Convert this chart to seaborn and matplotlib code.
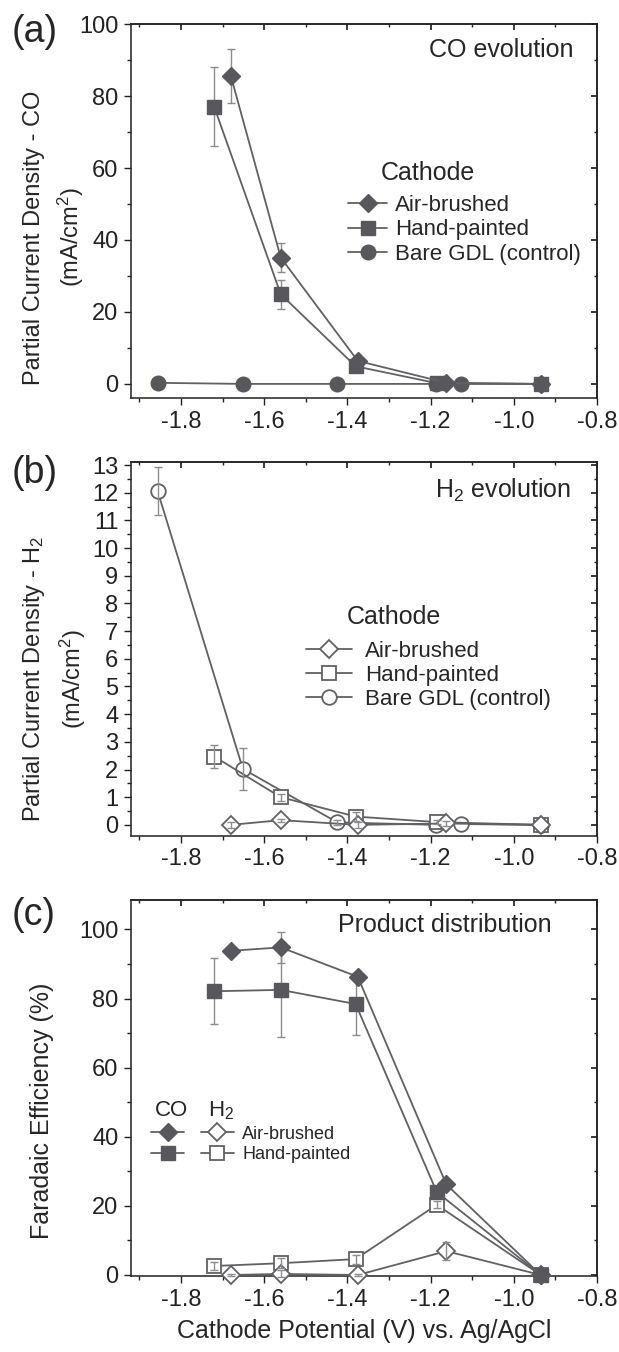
import numpy as np
import pandas as pd
import matplotlib
matplotlib.use("Agg")
import matplotlib.pyplot as plt
import seaborn as sns
from matplotlib.lines import Line2D
from matplotlib.legend_handler import HandlerTuple
from matplotlib.ticker import MultipleLocator, FixedLocator

# ---------------- data ----------------
# (a) CO partial current density (mA/cm2)
a_air_x = [-1.68, -1.56, -1.375, -1.162, -0.935]
a_air_y = [85.6, 35.1, 6.4, 0.3, 0.0]
a_air_e = [7.5, 4.0, 0.0, 0.0, 0.0]
a_hand_x = [-1.72, -1.56, -1.38, -1.185, -0.935]
a_hand_y = [77.0, 24.9, 4.9, 0.2, 0.0]
a_hand_e = [11.0, 4.0, 0.0, 0.0, 0.0]
a_bare_x = [-1.856, -1.651, -1.424, -1.186, -1.127, -0.935]
a_bare_y = [0.3, 0.0, 0.0, 0.0, 0.0, 0.0]

# (b) H2 partial current density (mA/cm2)
b_air_x = a_air_x
b_air_y = [0.0, 0.17, 0.0, 0.05, 0.0]
b_air_e = [0.12, 0.05, 0.1, 0.1, 0.0]
b_hand_x = a_hand_x
b_hand_y = [2.47, 1.0, 0.3, 0.1, 0.0]
b_hand_e = [0.42, 0.12, 0.15, 0.08, 0.0]
b_bare_x = a_bare_x
b_bare_y = [12.06, 2.02, 0.09, 0.0, 0.03, 0.0]
b_bare_e = [0.88, 0.77, 0.08, 0.0, 0.0, 0.0]

# (c) Faradaic efficiency (%)
c_co_air_y = [93.8, 94.8, 86.3, 26.2, 0.0]
c_co_air_e = [0.0, 4.5, 0.0, 0.0, 0.0]
c_co_hand_y = [82.1, 82.5, 78.4, 24.0, 0.0]
c_co_hand_e = [9.5, 13.5, 9.0, 0.0, 0.0]
c_h2_air_y = [0.0, 0.3, 0.0, 6.9, 0.0]
c_h2_air_e = [0.3, 1.0, 0.3, 2.6, 0.0]
c_h2_hand_y = [2.6, 3.4, 4.6, 20.3, 0.0]
c_h2_hand_e = [1.2, 1.5, 1.3, 1.0, 0.0]

legend_labels = ["Air-brushed", "Hand-painted", "Bare GDL (control)"]
xticks = [-1.8, -1.6, -1.4, -1.2, -1.0, -0.8]

# ---------------- style ----------------
sns.set_theme(style="ticks")
plt.rcParams["font.family"] = ["Liberation Sans", "DejaVu Sans"]
plt.rcParams["mathtext.fontset"] = "custom"
plt.rcParams["mathtext.rm"] = "Liberation Sans"
plt.rcParams["mathtext.it"] = "Liberation Sans"
plt.rcParams["axes.linewidth"] = 1.1

LINE = "#616165"
FILL = "#58585c"
ERR = "#8c8c8c"
TICK_FS = 17

fig = plt.figure(figsize=(6.19, 13.52), dpi=100)
L, W = 0.2116, 0.7528
ax_a = fig.add_axes([L, 0.7054, W, 0.2768])
ax_b = fig.add_axes([L, 0.3817, W, 0.2768])
ax_c = fig.add_axes([L, 0.0562, W, 0.2781])


def series(ax, x, y, marker, ms, filled, err=None):
    df = pd.DataFrame({"x": x, "y": y})
    if err is not None:
        e = np.asarray(err, dtype=float)
        m = e > 0
        if m.any():
            ax.errorbar(np.asarray(x)[m], np.asarray(y)[m], yerr=e[m], fmt="none",
                        ecolor=ERR, elinewidth=1.0, capsize=3, capthick=1.0,
                        zorder=5 if not filled else 1.5, clip_on=False)
    sns.lineplot(data=df, x="x", y="y", ax=ax, color=LINE, linewidth=1.3,
                 marker=marker, markersize=ms,
                 markerfacecolor=FILL if filled else "white",
                 markeredgecolor=FILL if filled else LINE,
                 markeredgewidth=1.0 if filled else 1.3,
                 clip_on=False, zorder=3, sort=True, estimator=None)


def style_axes(ax, ymin, ymax, ymaj, ymin_step):
    ax.set_xlim(-1.92, -0.8)
    ax.set_ylim(ymin, ymax)
    ax.xaxis.set_major_locator(FixedLocator(xticks))
    ax.xaxis.set_minor_locator(MultipleLocator(0.1))
    ax.yaxis.set_major_locator(MultipleLocator(ymaj))
    ax.yaxis.set_minor_locator(MultipleLocator(ymin_step))
    ax.set_xticklabels([f"{t:.1f}" for t in xticks])
    ax.tick_params(which="major", direction="out", length=5, width=1.0,
                   labelsize=TICK_FS, pad=4, colors="#222222")
    ax.tick_params(which="minor", direction="out", length=3, width=1.0, colors="#222222")
    for s in ax.spines.values():
        s.set_color("#222222")
    ax.set_xlabel("")
    # inward ticks on top and right
    top = ax.secondary_xaxis("top")
    top.xaxis.set_major_locator(FixedLocator(xticks))
    top.xaxis.set_minor_locator(MultipleLocator(0.1))
    top.tick_params(which="both", direction="in", labeltop=False, colors="#222222")
    top.tick_params(which="major", length=4)
    top.tick_params(which="minor", length=2.5)
    right = ax.secondary_yaxis("right")
    right.yaxis.set_major_locator(MultipleLocator(ymaj))
    right.yaxis.set_minor_locator(MultipleLocator(ymin_step))
    right.tick_params(which="both", direction="in", labelright=False, colors="#222222")
    right.tick_params(which="major", length=4)
    right.tick_params(which="minor", length=2.5)


# ---------------- (a) ----------------
series(ax_a, a_bare_x, a_bare_y, "o", 10.5, True)
series(ax_a, a_hand_x, a_hand_y, "s", 9.5, True, a_hand_e)
series(ax_a, a_air_x, a_air_y, "D", 9, True, a_air_e)
style_axes(ax_a, -4, 100, 20, 10)
ax_a.set_ylabel("Partial Current Density - CO\n(mA/cm$^{2}$)", fontsize=17,
                va="center", multialignment="center", linespacing=1.45)
ax_a.yaxis.set_label_coords(-0.164, 0.43)
ax_a.text(0.95, 0.93, "CO evolution", transform=ax_a.transAxes, ha="right",
          va="center", fontsize=18)
ax_a.text(0.536, 0.602, "Cathode", transform=ax_a.transAxes, ha="left",
          va="center", fontsize=18)
h_a = [Line2D([], [], color=LINE, lw=1.3, marker=m, ms=s, mfc=FILL, mec=FILL)
       for m, s in [("D", 9), ("s", 9.5), ("o", 10.5)]]
ax_a.legend(h_a, legend_labels, loc="upper left", bbox_to_anchor=(0.466, 0.543),
            frameon=False, fontsize=16, handlelength=1.75, handletextpad=0.36,
            labelspacing=0.15, borderpad=0, borderaxespad=0)

# ---------------- (b) ----------------
series(ax_b, b_bare_x, b_bare_y, "o", 10.5, False, b_bare_e)
series(ax_b, b_hand_x, b_hand_y, "s", 9.5, False, b_hand_e)
series(ax_b, b_air_x, b_air_y, "D", 9, False, b_air_e)
style_axes(ax_b, -0.4, 13.12, 1, 0.5)
ax_b.set_ylabel("Partial Current Density - H$_{2}$\n(mA/cm$^{2}$)", fontsize=17,
                va="center", multialignment="center", linespacing=1.45)
ax_b.yaxis.set_label_coords(-0.164, 0.42)
ax_b.text(0.945, 0.924, "H$_{2}$ evolution", transform=ax_b.transAxes, ha="right",
          va="center", fontsize=18)
ax_b.text(0.464, 0.585, "Cathode", transform=ax_b.transAxes, ha="left",
          va="center", fontsize=18)
h_b = [Line2D([], [], color=LINE, lw=1.3, marker=m, ms=s, mfc="white", mec=LINE, mew=1.3)
       for m, s in [("D", 9), ("s", 9.5), ("o", 10.5)]]
ax_b.legend(h_b, legend_labels, loc="upper left", bbox_to_anchor=(0.376, 0.522),
            frameon=False, fontsize=16, handlelength=2.07, handletextpad=0.59,
            labelspacing=0.15, borderpad=0, borderaxespad=0)

# ---------------- (c) ----------------
series(ax_c, a_hand_x, c_h2_hand_y, "s", 9.5, False, c_h2_hand_e)
series(ax_c, a_air_x, c_h2_air_y, "D", 9, False, c_h2_air_e)
series(ax_c, a_hand_x, c_co_hand_y, "s", 9.5, True, c_co_hand_e)
series(ax_c, a_air_x, c_co_air_y, "D", 9, True, c_co_air_e)
style_axes(ax_c, -0.3, 108.5, 20, 10)
ax_c.set_ylabel("Faradaic Efficiency (%)", fontsize=18, va="center")
ax_c.yaxis.set_label_coords(-0.19, 0.44)
ax_c.set_xlabel("Cathode Potential (V) vs. Ag/AgCl", fontsize=18, labelpad=6)
ax_c.text(0.903, 0.934, "Product distribution", transform=ax_c.transAxes, ha="right",
          va="center", fontsize=18)
ax_c.text(0.052, 0.441, "CO", transform=ax_c.transAxes, ha="left", va="center", fontsize=16)
ax_c.text(0.165, 0.441, "H$_{2}$", transform=ax_c.transAxes, ha="left", va="center", fontsize=16)
co_air_h = Line2D([], [], color=LINE, lw=1.3, marker="D", ms=9, mfc=FILL, mec=FILL)
h2_air_h = Line2D([], [], color=LINE, lw=1.3, marker="D", ms=9, mfc="white", mec=LINE, mew=1.3)
co_hand_h = Line2D([], [], color=LINE, lw=1.3, marker="s", ms=9.5, mfc=FILL, mec=FILL)
h2_hand_h = Line2D([], [], color=LINE, lw=1.3, marker="s", ms=9.5, mfc="white", mec=LINE, mew=1.3)
ax_c.legend([(co_air_h, h2_air_h), (co_hand_h, h2_hand_h)], legend_labels[:2],
            handler_map={tuple: HandlerTuple(ndivide=None, pad=0.9)},
            loc="upper left", bbox_to_anchor=(0.043, 0.40), frameon=False,
            fontsize=13, handlelength=4.6, handletextpad=0.45, labelspacing=0.2,
            borderpad=0, borderaxespad=0)

# panel letters
fig.text(0.019, 0.976, "(a)", fontsize=27, ha="left", va="center")
fig.text(0.019, 0.650, "(b)", fontsize=27, ha="left", va="center")
fig.text(0.019, 0.323, "(c)", fontsize=27, ha="left", va="center")

fig.savefig("out.png", dpi=100)
